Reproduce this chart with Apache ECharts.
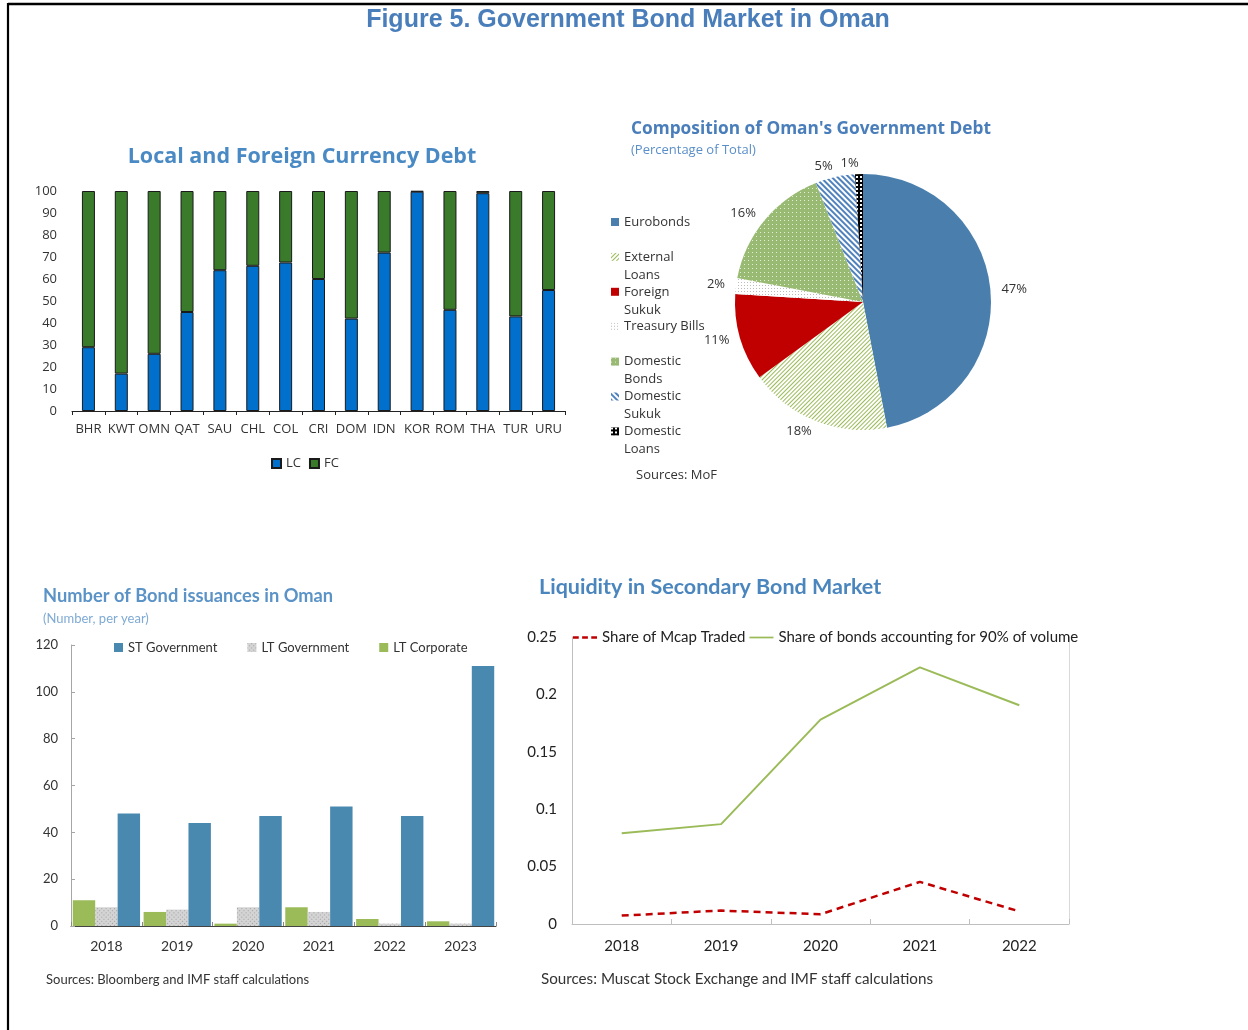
<!DOCTYPE html>
<html><head><meta charset="utf-8">
<script src="https://cdn.jsdelivr.net/npm/echarts@6/dist/echarts.min.js"></script>
<style>html,body{margin:0;padding:0;background:#fff}#c{width:1248px;height:1030px}</style>
</head><body><div id="c"></div>
<script>
// ---- Data ----
const countries = ['BHR','KWT','OMN','QAT','SAU','CHL','COL','CRI','DOM','IDN','KOR','ROM','THA','TUR','URU'];
const lcShare = [29,17,26,45,64,66,67.5,60,42,72,99.7,46,99,43,55];
const fcShare = [71,83,74,55,36,34,32.5,40,58,28,0.3,54,1,57,45];

const debtNames = ['Eurobonds','External Loans','Foreign Sukuk','Treasury Bills','Domestic Bonds','Domestic Sukuk','Domestic Loans'];
const debtShares = [47,18,11,2,16,5,1];
const debtLegendText = ['Eurobonds','External\nLoans','Foreign\nSukuk','Treasury Bills','Domestic\nBonds','Domestic\nSukuk','Domestic\nLoans'];

const issueYears = ['2018','2019','2020','2021','2022','2023'];
const stGov = [48,44,47,51,47,111];
const ltGov = [8,7,8,6,1,1];
const ltCorp = [11,6,1,8,3,2];

const liqYears = ['2018','2019','2020','2021','2022'];
const mcapTraded = [0.0073,0.0117,0.0085,0.0367,0.011];
const bonds90 = [0.079,0.087,0.178,0.2235,0.1905];

// ---- Styles ----
const OS = "'Open Sans', sans-serif";
const LT = "Lato, sans-serif";
const debtStyles = [
  {color:'#4A7FAD'},
  {color:'#ffffff', decal:{symbol:'rect', color:'#9BBB59', dashArrayX:[1,0], dashArrayY:[1,2], rotation:-Math.PI/4, symbolSize:1}},
  {color:'#C00000'},
  {color:'#ffffff', decal:{symbol:'rect', color:'#BBBBBB', dashArrayX:[1,2], dashArrayY:[1,2], symbolSize:1}},
  {color:'#98BA72', decal:{symbol:'rect', color:'rgba(255,255,255,0.75)', dashArrayX:[1,3], dashArrayY:[1,3], symbolSize:1}},
  {color:'#ffffff', decal:{symbol:'rect', color:'#4F81BD', dashArrayX:[1,0], dashArrayY:[2,2], rotation:Math.PI/4, symbolSize:1}},
  {color:'#000000', decal:{symbol:'rect', color:'#ffffff', dashArrayX:[2,2], dashArrayY:[2,2], symbolSize:1}}
];

const pieLegends = debtNames.map((n,i)=>{
  const c = 222 + 34.9*i;
  const two = debtLegendText[i].indexOf('\n') >= 0;
  return {
    data:[n], left:611, top: two ? c-27 : c-9, padding:0, orient:'vertical',
    icon:'rect', itemWidth:8, itemHeight:8, selectedMode:false,
    formatter: ()=> two ? '\n' + debtLegendText[i] : debtLegendText[i],
    textStyle:{fontFamily:OS, fontSize:13, color:'#333', lineHeight:18}
  };
});

const option = {
  animation:false,
  backgroundColor:'#fff',
  textStyle:{fontFamily:OS},
  graphic:[
    {type:'line', shape:{x1:8,y1:4,x2:1248,y2:4}, style:{stroke:'#000', lineWidth:2.5}},
    {type:'line', shape:{x1:8,y1:3,x2:8,y2:1030}, style:{stroke:'#000', lineWidth:2.2}},
    {type:'text', x:628, y:20, style:{text:'Figure 5. Government Bond Market in Oman', font:"bold 25px 'Liberation Sans', Arial, sans-serif", fill:'#4A7EBB', align:'center', verticalAlign:'middle'}},
    {type:'text', x:302, y:157, style:{text:'Local and Foreign Currency Debt', font:"bold 21.5px 'Open Sans', sans-serif", fill:'#4A8AC4', align:'center', verticalAlign:'middle'}},
    {type:'text', x:631, y:129, style:{text:"Composition of Oman's Government Debt", font:"bold 17.3px 'Open Sans', sans-serif", fill:'#4A7EBB', align:'left', verticalAlign:'middle'}},
    {type:'text', x:631, y:150, style:{text:'(Percentage of Total)', font:"13px 'Open Sans', sans-serif", fill:'#5B8FC9', align:'left', verticalAlign:'middle'}},
    {type:'text', x:636, y:475, style:{text:'Sources: MoF', font:"13px 'Open Sans', sans-serif", fill:'#333', align:'left', verticalAlign:'middle'}},
    {type:'text', x:43, y:596, style:{text:'Number of Bond issuances in Oman', font:"bold 18.3px Lato, sans-serif", fill:'#5B93C7', align:'left', verticalAlign:'middle'}},
    {type:'text', x:43, y:619, style:{text:'(Number, per year)', font:"13px Lato, sans-serif", fill:'#7FAAD4', align:'left', verticalAlign:'middle'}},
    {type:'text', x:46, y:980, style:{text:'Sources: Bloomberg and IMF staff calculations', font:"13px Lato, sans-serif", fill:'#333', align:'left', verticalAlign:'middle'}},
    {type:'text', x:539, y:587, style:{text:'Liquidity in Secondary Bond Market', font:"bold 21.5px Lato, sans-serif", fill:'#4A86BD', align:'left', verticalAlign:'middle'}},
    {type:'text', x:541, y:979, style:{text:'Sources: Muscat Stock Exchange and IMF staff calculations', font:"15.2px Lato, sans-serif", fill:'#333', align:'left', verticalAlign:'middle'}}
  ],
  legend:[
    {data:['LC','FC'], left:271, top:457, padding:0, icon:'rect', itemWidth:9, itemHeight:9, itemGap:8, selectedMode:false,
     textStyle:{fontFamily:OS, fontSize:13, color:'#333'}},
    ...pieLegends,
    {data:['ST Government','LT Government','LT Corporate'], left:114, top:641, padding:0, icon:'rect', itemWidth:9, itemHeight:9, itemGap:30, selectedMode:false,
     textStyle:{fontFamily:LT, fontSize:13, color:'#333'}},
    {data:[
        {name:'Share of Mcap Traded', icon:'path://M0,0h6v2.4h-6z M9.5,0h6v2.4h-6z M19,0h6v2.4h-6z'},
        {name:'Share of bonds accounting for 90% of volume', icon:'path://M0,0h25v1.8h-25z'}
      ],
     left:573, top:630, padding:0, itemWidth:24, itemHeight:14, itemGap:4, selectedMode:false,
     textStyle:{fontFamily:LT, fontSize:15, color:'#222'}}
  ],
  grid:[
    {left:72, top:191, width:493, height:220},
    {left:71, top:645, width:425, height:281},
    {left:572, top:637, width:497, height:287}
  ],
  xAxis:[
    {gridIndex:0, type:'category', data:countries,
     axisLine:{lineStyle:{color:'#222', width:1}}, axisTick:{show:true, length:4, lineStyle:{color:'#222'}},
     axisLabel:{interval:0, margin:12, fontSize:13, fontFamily:OS, color:'#333'}},
    {gridIndex:1, type:'category', data:issueYears,
     axisLine:{lineStyle:{color:'#444', width:1}}, axisTick:{show:true, inside:true, length:4, lineStyle:{color:'#888'}},
     axisLabel:{margin:13, fontSize:14, fontFamily:LT, color:'#333'}},
    {gridIndex:2, type:'category', data:liqYears,
     axisLine:{lineStyle:{color:'#BFBFBF', width:1}}, axisTick:{show:true, inside:true, length:5, lineStyle:{color:'#BFBFBF'}},
     axisLabel:{margin:15, fontSize:15, fontFamily:LT, color:'#222'}}
  ],
  yAxis:[
    {gridIndex:0, type:'value', min:0, max:100, interval:10,
     axisLine:{show:false}, axisTick:{show:false}, splitLine:{show:false},
     axisLabel:{margin:15, fontSize:13, fontFamily:OS, color:'#333'}},
    {gridIndex:1, type:'value', min:0, max:120, interval:20,
     axisLine:{show:true, lineStyle:{color:'#A6A6A6'}}, axisTick:{show:true, inside:true, length:4, lineStyle:{color:'#A6A6A6'}}, splitLine:{show:false},
     axisLabel:{margin:13, fontSize:13, fontFamily:LT, color:'#333'}},
    {gridIndex:2, type:'value', min:0, max:0.25, interval:0.05,
     axisLine:{show:true, lineStyle:{color:'#BFBFBF'}}, axisTick:{show:false}, splitLine:{show:false},
     axisLabel:{margin:15, fontSize:15, fontFamily:LT, color:'#222'}},
    {gridIndex:2, type:'value', position:'right', min:0, max:0.25, interval:0.05,
     axisLine:{show:true, lineStyle:{color:'#D9D9D9'}}, axisTick:{show:false}, splitLine:{show:false}, axisLabel:{show:false}}
  ],
  series:[
    {name:'LC', type:'bar', stack:'cur', xAxisIndex:0, yAxisIndex:0, data:lcShare, barWidth:13,
     itemStyle:{color:'#0070CC', borderColor:'#1a1a1a', borderWidth:1}},
    {name:'FC', type:'bar', stack:'cur', xAxisIndex:0, yAxisIndex:0, data:fcShare, barWidth:13,
     itemStyle:{color:'#3A7A2B', borderColor:'#1a1a1a', borderWidth:1}},
    {name:'Debt', type:'pie', center:[863,302], radius:128, startAngle:90, clockwise:true,
     avoidLabelOverlap:false,
     data: debtNames.map((n,i)=>({name:n, value:debtShares[i], itemStyle:debtStyles[i]})),
     label:{show:true, position:'outside', formatter:p=>p.value+'%', fontFamily:OS, fontSize:13, color:'#333', distanceToLabelLine:0},
     labelLine:{show:false, length:11, length2:0},
     emphasis:{disabled:true}},
    {name:'LT Corporate', type:'bar', xAxisIndex:1, yAxisIndex:1, data:ltCorp, barGap:'0%', barCategoryGap:'5%',
     itemStyle:{color:'#9BBB59'}},
    {name:'LT Government', type:'bar', xAxisIndex:1, yAxisIndex:1, data:ltGov, barGap:'0%', barCategoryGap:'5%',
     itemStyle:{color:'#D4D4D4', decal:{symbol:'rect', color:'#A0A0A0', dashArrayX:[1,2], dashArrayY:[1,2], rotation:Math.PI/4, symbolSize:1}}},
    {name:'ST Government', type:'bar', xAxisIndex:1, yAxisIndex:1, data:stGov, barGap:'0%', barCategoryGap:'5%',
     itemStyle:{color:'#4A89AF'}},
    {name:'Share of Mcap Traded', type:'line', xAxisIndex:2, yAxisIndex:2, data:mcapTraded, symbol:'none',
     lineStyle:{color:'#C00000', width:2.5, type:[7,5]}, itemStyle:{color:'#C00000'}},
    {name:'Share of bonds accounting for 90% of volume', type:'line', xAxisIndex:2, yAxisIndex:2, data:bonds90, symbol:'none',
     lineStyle:{color:'#9BBB59', width:2}, itemStyle:{color:'#9BBB59'}}
  ]
};
const chart = echarts.init(document.getElementById('c'), null, {renderer:'canvas'});
chart.setOption(option);
</script>
</body></html>
